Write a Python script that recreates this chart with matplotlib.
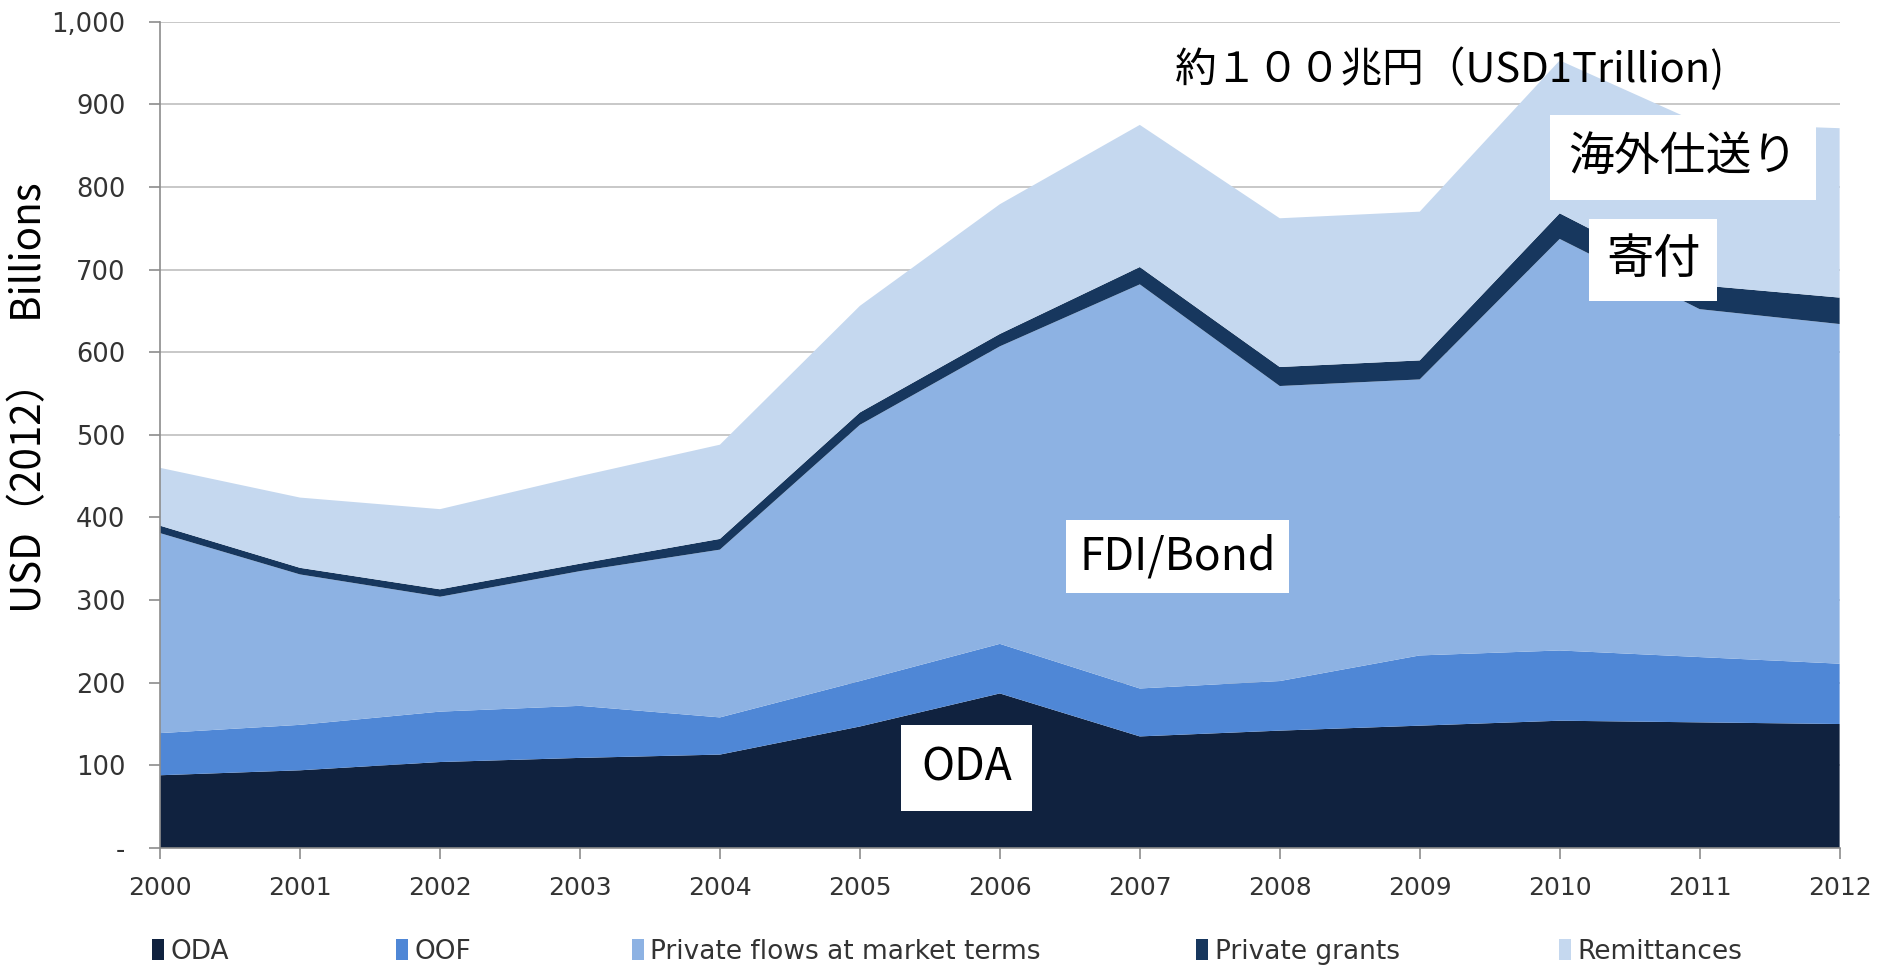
import matplotlib
matplotlib.use("Agg")
import matplotlib.pyplot as plt
from matplotlib.patches import Patch

# データ (USD 2012, Billions)
years = [2000, 2001, 2002, 2003, 2004, 2005, 2006, 2007, 2008, 2009, 2010, 2011, 2012]
oda = [88, 94, 104, 109, 113, 147, 187, 135, 142, 148, 154, 152, 150]
oof = [51, 55, 61, 63, 45, 55, 60, 58, 60, 85, 85, 79, 73]
private_flows = [242, 182, 139, 163, 203, 310, 360, 489, 357, 334, 498, 421, 411]
private_grants = [9, 8, 9, 9, 13, 15, 15, 21, 23, 23, 31, 29, 32]
remittances = [70, 85, 97, 106, 114, 129, 157, 172, 180, 180, 185, 196, 205]

series_names = ["ODA", "OOF", "Private flows at market terms", "Private grants", "Remittances"]
colors = ["#10223F", "#4F87D6", "#8DB2E3", "#17375E", "#C5D8EF"]

yticks = [0, 100, 200, 300, 400, 500, 600, 700, 800, 900, 1000]
ytick_labels = ["-", "100", "200", "300", "400", "500", "600", "700", "800", "900", "1,000"]

cjk = ["Noto Sans CJK JP", "DejaVu Sans"]

fig = plt.figure(figsize=(18.81, 9.68), dpi=100)
ax = fig.add_axes([0.0851, 0.124, 0.8929, 0.8537])

ax.stackplot(years, oda, oof, private_flows, private_grants, remittances,
             colors=colors, linewidth=0, zorder=2)

ax.set_xlim(2000, 2012)
ax.set_ylim(0, 1000)
ax.set_xticks(years)
ax.set_xticklabels([str(y) for y in years], fontsize=18, color="#333333")
ax.set_yticks(yticks)
ax.set_yticklabels(ytick_labels, fontsize=18.5, color="#333333")
ax.tick_params(axis="both", length=8, color="#8C8C8C", width=1.2)
ax.tick_params(axis="x", pad=12)
ax.tick_params(axis="y", pad=17)

ax.grid(axis="y", color="#BFBFBF", linewidth=1.2, zorder=0)
ax.set_axisbelow(True)
for side in ["top", "right"]:
    ax.spines[side].set_visible(False)
for side in ["left", "bottom"]:
    ax.spines[side].set_color("#8C8C8C")
    ax.spines[side].set_linewidth(1.2)

ax.set_ylabel("USD（2012）　Billions", family=cjk, fontsize=29, va="center")
ax.yaxis.set_label_coords(-0.0774, 0.545)

# 注釈
ax.text(0.768, 0.943, "約１００兆円（USD1Trillion)", transform=ax.transAxes,
        ha="center", va="center", fontsize=30, family=cjk, zorder=5)
ax.text(0.907, 0.836, "海外仕送り", transform=ax.transAxes, ha="center", va="center",
        fontsize=33, family=cjk, zorder=5,
        bbox=dict(boxstyle="square,pad=0.4", facecolor="white", edgecolor="none"))
ax.text(0.889, 0.7115, "寄付", transform=ax.transAxes, ha="center", va="center",
        fontsize=34, family=cjk, zorder=5,
        bbox=dict(boxstyle="square,pad=0.36", facecolor="white", edgecolor="none"))
ax.text(0.606, 0.353, "FDI/Bond", transform=ax.transAxes, ha="center", va="center",
        fontsize=32, family=cjk, zorder=5,
        bbox=dict(boxstyle="square,pad=0.3", facecolor="white", edgecolor="none"))
ax.text(0.480, 0.0968, "ODA", transform=ax.transAxes, ha="center", va="center",
        fontsize=32, family=cjk, zorder=5,
        bbox=dict(boxstyle="square,pad=0.45", facecolor="white", edgecolor="none"))

# 凡例 (各項目を個別に配置)
legend_x = [0.0810, 0.2105, 0.336, 0.636, 0.829]
for name, c, lx in zip(series_names, colors, legend_x):
    leg = fig.legend([Patch(facecolor=c, edgecolor="none")], [name], loc="center left",
                     bbox_to_anchor=(lx, 0.017), frameon=False, fontsize=19,
                     handlelength=0.45, handleheight=0.9, handletextpad=0.25, borderpad=0,
                     borderaxespad=0)
    for t in leg.get_texts():
        t.set_color("#333333")

fig.savefig("out.png", dpi=100)
